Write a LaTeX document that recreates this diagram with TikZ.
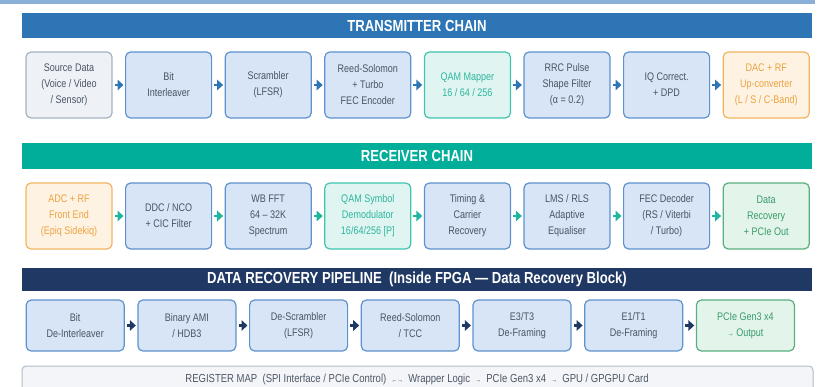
\documentclass[tikz,border=0pt]{standalone}
\usepackage{fontspec}
\setmainfont{Liberation Sans}[FakeStretch=0.82]
\usetikzlibrary{arrows.meta}
\definecolor{hdrblue}{HTML}{2E75B6}
\definecolor{hdrteal}{HTML}{00AE9A}
\definecolor{hdrnavy}{HTML}{1F3864}
\definecolor{topband}{HTML}{8AB0D8}
\definecolor{bfill}{HTML}{D7E5F7}
\definecolor{bdraw}{HTML}{5E92CE}
\definecolor{btext}{HTML}{4A5462}
\definecolor{gfill}{HTML}{EEF2F7}
\definecolor{gdraw}{HTML}{A5B3C3}
\definecolor{tfill}{HTML}{E0F5F1}
\definecolor{tdraw}{HTML}{40C4AE}
\definecolor{ttext}{HTML}{2DB59D}
\definecolor{ofill}{HTML}{FEF3E3}
\definecolor{odraw}{HTML}{F2B45E}
\definecolor{otext}{HTML}{EDA140}
\definecolor{grfill}{HTML}{E3F4EB}
\definecolor{grdraw}{HTML}{5AAE80}
\definecolor{grtext}{HTML}{389B69}
\definecolor{rfill}{HTML}{F3F5F8}
\definecolor{rdraw}{HTML}{B0BCC8}
\definecolor{rtext}{HTML}{4E5866}
\definecolor{arrteal}{HTML}{1FB59F}
\tikzset{
  hdr/.style={fill=#1, minimum width=790pt, inner sep=0pt, text=white,
    font=\fontsize{16}{18}\selectfont\bfseries},
  bx/.style={draw=bdraw, fill=bfill, text=btext, rounded corners=5pt,
    line width=1.2pt, minimum width=86pt, minimum height=66pt, align=center,
    inner sep=0pt, font=\fontsize{11}{16}\selectfont},
  dbx/.style={bx, minimum width=98pt, minimum height=51pt},
  graybox/.style={draw=gdraw, fill=gfill},
  tealbox/.style={draw=tdraw, fill=tfill, text=ttext},
  orangebox/.style={draw=odraw, fill=ofill, text=otext},
  greenbox/.style={draw=grdraw, fill=grfill, text=grtext},
  arr/.style={draw=#1, line width=2.6pt, shorten <=2pt, shorten >=1.5pt,
    -{Triangle[length=6pt,width=10.5pt]}},
}
\begin{document}
\begin{tikzpicture}[x=1pt,y=-1pt]
\useasboundingbox (0,0) rectangle (821,387);
\clip (0,0) rectangle (821,387);
\fill[topband] (0,0) rectangle (815,4);

% Transmitter chain
\node[hdr=hdrblue, minimum height=25pt] (th) at (417,26) {TRANSMITTER CHAIN};
\node[bx, graybox] (t1) at (69,85) {Source Data\\(Voice / Video\\/ Sensor)};
\node[bx] (t2) at (168.6,85) {Bit\\Interleaver};
\node[bx] (t3) at (268.2,85) {Scrambler\\(LFSR)};
\node[bx] (t4) at (367.8,85) {Reed-Solomon\\+ Turbo\\FEC Encoder};
\node[bx, tealbox] (t5) at (467.4,85) {QAM Mapper\\16 / 64 / 256};
\node[bx] (t6) at (567,85) {RRC Pulse\\Shape Filter\\(α = 0.2)};
\node[bx] (t7) at (666.6,85) {IQ Correct.\\+ DPD};
\node[bx, orangebox] (t8) at (766.2,85) {DAC + RF\\Up-converter\\(L / S / C-Band)};
\foreach \a/\b in {t1/t2,t2/t3,t3/t4,t4/t5,t5/t6,t6/t7,t7/t8}
  \draw[arr=hdrblue] (\a) -- (\b);

% Receiver chain
\node[hdr=hdrteal, minimum height=26pt] (rh) at (417,156) {RECEIVER CHAIN};
\node[bx, orangebox] (r1) at (69,216) {ADC + RF\\Front End\\(Epiq Sidekiq)};
\node[bx] (r2) at (168.6,216) {DDC / NCO\\+ CIC Filter};
\node[bx] (r3) at (268.2,216) {WB FFT\\64 – 32K\\Spectrum};
\node[bx, tealbox] (r4) at (367.8,216) {QAM Symbol\\Demodulator\\16/64/256 [P]};
\node[bx] (r5) at (467.4,216) {Timing \&\\Carrier\\Recovery};
\node[bx] (r6) at (567,216) {LMS / RLS\\Adaptive\\Equaliser};
\node[bx] (r7) at (666.6,216) {FEC Decoder\\(RS / Viterbi\\/ Turbo)};
\node[bx, greenbox] (r8) at (766.2,216) {Data\\Recovery\\+ PCIe Out};
\foreach \a/\b in {r1/r2,r2/r3,r3/r4,r4/r5,r5/r6,r6/r7,r7/r8}
  \draw[arr=arrteal] (\a) -- (\b);

% Data recovery pipeline
\node[hdr=hdrnavy, minimum height=23pt] (dh) at (417,279.5) {DATA RECOVERY PIPELINE\ \ (Inside FPGA — Data Recovery Block)};
\node[dbx] (d1) at (75.2,325.5) {Bit\\De-Interleaver};
\node[dbx] (d2) at (186.9,325.5) {Binary AMI\\/ HDB3};
\node[dbx] (d3) at (298.6,325.5) {De-Scrambler\\(LFSR)};
\node[dbx] (d4) at (410.3,325.5) {Reed-Solomon\\/ TCC};
\node[dbx] (d5) at (522,325.5) {E3/T3\\De-Framing};
\node[dbx] (d6) at (633.7,325.5) {E1/T1\\De-Framing};
\node[dbx, greenbox] (d7) at (745.4,325.5) {PCIe Gen3 x4\\{\fontsize{8}{16}\selectfont →} Output};
\foreach \a/\b in {d1/d2,d2/d3,d3/d4,d4/d5,d5/d6,d6/d7}
  \draw[arr=hdrnavy] (\a) -- (\b);

% Register map
\node[draw=rdraw, fill=rfill, rounded corners=4pt, line width=1pt,
  minimum width=791pt, minimum height=32pt, inner sep=0pt] (rm) at (417.5,382) {};
\node[text=rtext, font=\fontsize{11.6}{13}\selectfont, anchor=base] (rmt) at (417,382)
  {REGISTER MAP\ \ (SPI Interface / PCIe Control)\ \ {\fontsize{7}{13}\selectfont ←→}\ \ Wrapper Logic\ \ {\fontsize{7}{13}\selectfont →}\ \ PCIe Gen3 x4\ \ {\fontsize{7}{13}\selectfont →}\ \ GPU / GPGPU Card};
\end{tikzpicture}
\end{document}
